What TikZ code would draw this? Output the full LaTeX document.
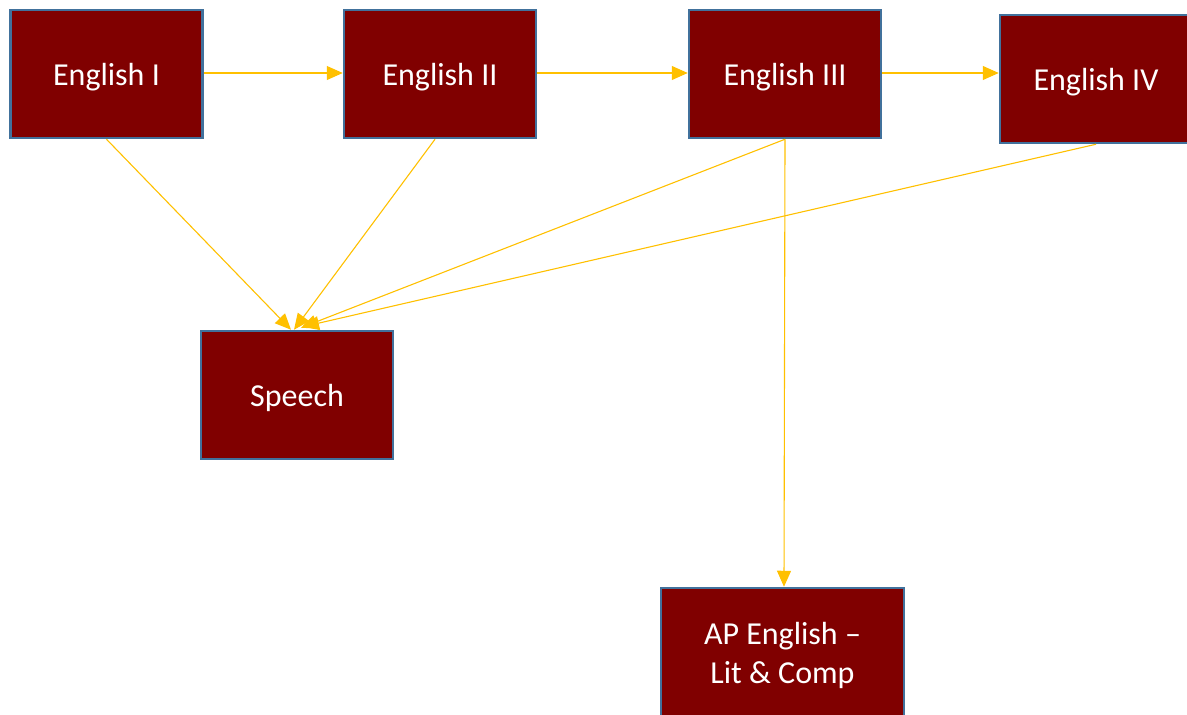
\documentclass[tikz,border=0pt]{standalone}
\usepackage{fontspec}
\setmainfont{Carlito}
\usetikzlibrary{arrows.meta,calc}
\definecolor{boxfill}{RGB}{128,0,0}
\definecolor{boxline}{RGB}{65,113,156}
\definecolor{arrowc}{RGB}{255,192,0}
\begin{document}
\begin{tikzpicture}[x=1pt,y=-1pt,
  coursebox/.style={draw=boxline,line width=2.5pt,fill=boxfill,
    minimum width=192pt,minimum height=128pt,inner sep=0pt},
  coursetext/.style={text=white,align=center,yshift=-3pt,inner sep=0pt,
    font=\fontsize{32}{39}\selectfont},
  link/.style={draw=arrowc,line width=1.1pt,-{Triangle[length=16pt,width=14pt]}}]
\useasboundingbox (0,0) rectangle (1187,715);
\node[coursebox,label={[coursetext]center:English I}] (e1) at (106.5,74) {};
\node[coursebox,label={[coursetext]center:English II}] (e2) at (440,74) {};
\node[coursebox,label={[coursetext]center:English III}] (e3) at (785,74) {};
\node[coursebox,label={[coursetext]center:English IV}] (e4) at (1096,79) {};
\node[coursebox,label={[coursetext]center:Speech}] (sp) at (297,395) {};
\node[coursebox,minimum width=243pt,label={[coursetext]center:AP English –\\Lit \& Comp}] (ap) at (782.5,652) {};
\draw[link] (e1.east |- 0,73) -- (e2.west |- 0,73);
\draw[link] (e2.east |- 0,73) -- (e3.west |- 0,73);
\draw[link] (e3.east |- 0,73) -- (e4.west |- 0,73);
\draw[link] (e1.south) -- ($(sp.north)+(-6,0)$);
\draw[link] ($(e2.south)+(-5,0)$) -- ($(sp.north)+(-3,0)$);
\draw[link] (e3.south) -- ($(sp.north)+(4,-2)$);
\draw[link] (e4.south) -- ($(sp.north)+(6,-3)$);
\draw[link] (e3.south) -- ($(ap.north)+(1.5,0)$);
\end{tikzpicture}
\end{document}
